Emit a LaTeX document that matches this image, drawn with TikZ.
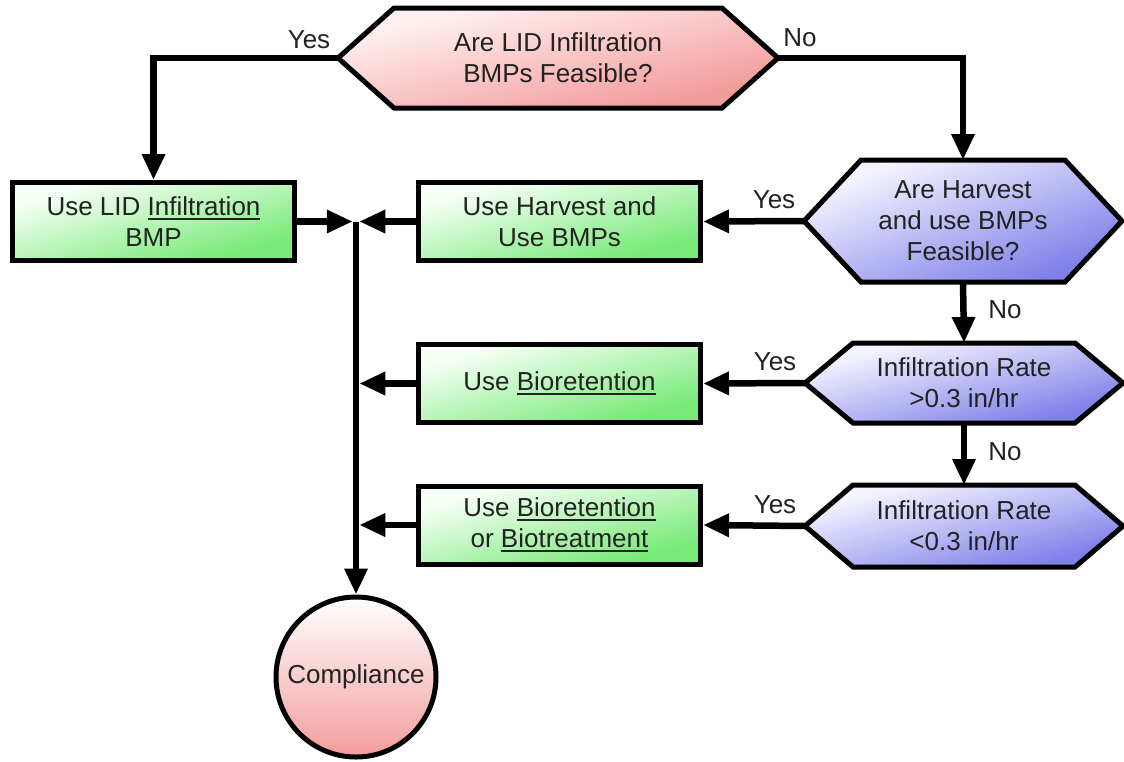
\documentclass[tikz,border=0pt]{standalone}
\usepackage{fontspec}
\setmainfont{Liberation Sans}
\usetikzlibrary{arrows.meta,calc}
\definecolor{txt}{HTML}{222222}
\definecolor{gtl}{HTML}{F6FFF6}
\definecolor{gmd}{HTML}{CDF7CD}
\definecolor{gbr}{HTML}{78EA78}
\definecolor{rtl}{HTML}{FFF0F0}
\definecolor{rmd}{HTML}{F9D2D2}
\definecolor{rbr}{HTML}{F39C9C}
\definecolor{btl}{HTML}{F4F4FF}
\definecolor{bmd}{HTML}{CFCFF8}
\definecolor{bbr}{HTML}{8080EA}
\newcommand{\myul}[1]{\setbox0\hbox{#1}\rlap{\rule[-5pt]{\wd0}{2pt}}\box0}
\newcommand{\hexshape}[8]{%
  \path[hexfill,#7={2*#4}{2*#5}] ({#2-#4},#3) -- ({#2-#4+#6},{#3-#5}) -- ({#2+#4-#6},{#3-#5}) -- ({#2+#4},#3) -- ({#2+#4-#6},{#3+#5}) -- ({#2-#4+#6},{#3+#5}) -- cycle;
  \node[hexnode,minimum width={2*#4},minimum height={2*#5}] (#1) at (#2,#3) {#8};%
}
% process box: name, cx, cy, text   (282 x 78, border outside 5pt)
\newcommand{\procbox}[4]{%
  \path[hexfill,greenfill={282}{78}] ({#2-141},{#3-39}) rectangle ({#2+141},{#3+39});
  \node[boxnode] (#1) at (#2,#3) {#4};%
}
\tikzset{
  dshade/.style n args={5}{path picture={%
    \begin{scope}[transform canvas={shift={(path picture bounding box.center)},xscale={(#1)/100},yscale={(#2)/100}}]
      \shade[top color=#3, middle color=#4, bottom color=#5, shading angle=45] (-50pt,-50pt) rectangle (50pt,50pt);
    \end{scope}}},
  greenfill/.style 2 args={dshade={#1}{#2}{gtl}{gmd}{gbr}},
  redfill/.style 2 args={dshade={#1}{#2}{rtl}{rmd}{rbr}},
  bluefill/.style 2 args={dshade={#1}{#2}{btl}{bmd}{bbr}},
  txtfont/.style={font=\fontsize{26}{31}\selectfont, text=txt},
  lbl/.style={txtfont, inner sep=0pt},
  conn/.style={line width=6.5pt, -{Triangle[length=26pt,width=22pt]}},
  boxnode/.style={minimum width=282pt, minimum height=78pt, outer sep=2.5pt,
    align=center, txtfont, inner sep=0pt},
  hexfill/.style={draw=black, line width=5pt, line join=miter},
  hexnode/.style={inner sep=0pt, outer sep=0pt, align=center, txtfont},
}
\begin{document}
\begin{tikzpicture}[x=1pt,y=-1pt]
\useasboundingbox (0,0) rectangle (1124,761);
\fill[white] (0,0) rectangle (1124,761);

% decisions
\hexshape{q1}{558}{58}{220}{50}{56}{redfill}{Are LID Infiltration\\BMPs Feasible?}
\hexshape{q2}{963}{221}{159}{61}{57}{bluefill}{Are Harvest\\and use BMPs\\Feasible?}
\hexshape{q3}{964}{383}{159}{40}{48}{bluefill}{Infiltration Rate\\>0.3 in/hr}
\hexshape{q4}{964}{526}{159}{41}{48}{bluefill}{Infiltration Rate\\<0.3 in/hr}

% process boxes
\procbox{b1}{153.5}{221.5}{Use LID \myul{Infiltration}\\BMP}
\procbox{b2}{559.5}{221.5}{Use Harvest and\\Use BMPs}
\procbox{b3}{559.5}{383.5}{Use \myul{Bioretention}}
\procbox{b4}{559.5}{525}{Use \myul{Bioretention}\\or \myul{Biotreatment}}

% terminal
\node[circle, draw=black, line width=5pt, minimum size=160pt, inner sep=0pt,
      top color=white, middle color=rmd, bottom color=rbr, txtfont] (c) at (356,677) {Compliance};

% junction points on the collector line
\coordinate (j1) at (c.north |- b1.east);
\coordinate (j3) at (c.north |- b3.west);
\coordinate (j4) at (c.north |- b4.west);

% connectors
\draw[conn] (q1.west) -| (b1.north);
\draw[conn] (q1.east) -| (q2.north);
\draw[conn] (q2.west) -- (b2.east);
\draw[conn] (q2.south) -- (q3.north);
\draw[conn] (q3.west) -- (b3.east);
\draw[conn] (q3.south) -- (q4.north);
\draw[conn] (q4.west) -- (b4.east);
\draw[conn, shorten >=3.25pt] (b1.east) -- (j1);
\draw[conn, shorten >=3.25pt] (b2.west) -- (j1);
\draw[conn, shorten >=3.25pt] (b3.west) -- (j3);
\draw[conn, shorten >=3.25pt] (b4.west) -- (j4);
\draw[conn] (j1) -- (c.north);

% labels
\node[lbl] (yes1) at (309,40) {Yes};
\node[lbl] (no1) at (800,38) {No};
\node[lbl] (yes2) at (774,200) {Yes};
\node[lbl] (no2) at (1005,310) {No};
\node[lbl] (yes3) at (775,362) {Yes};
\node[lbl] (no3) at (1005,452) {No};
\node[lbl] (yes4) at (775,505) {Yes};
\end{tikzpicture}
\end{document}
